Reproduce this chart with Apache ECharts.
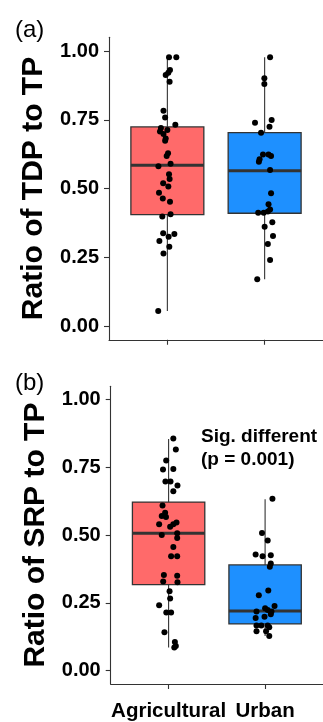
<!DOCTYPE html>
<html>
<head>
<meta charset="utf-8">
<script src="https://cdn.jsdelivr.net/npm/echarts@6/dist/echarts.min.js"></script>
<style>
html,body{margin:0;padding:0;background:#fff;}
#chart{width:323px;height:722px;}
</style>
</head>
<body>
<div id="chart"></div>
<script>
// ---------- data ----------
const categories = ['Agricultural', 'Urban'];
const yTicks = [0, 0.25, 0.5, 0.75, 1];
const xTicks = [1, 2];
const panelLabels = ['(a)', '(b)'];
const yTitles = ['Ratio of TDP to TP', 'Ratio of SRP to TP'];
const annotation = 'Sig. different\n(p = 0.001)';

// box stats: [lower whisker, Q1, median, Q3, upper whisker]
const tdpAgriBox = [0.055, 0.405, 0.585, 0.724, 0.977];
const tdpUrbanBox = [0.170, 0.410, 0.565, 0.703, 0.977];
const srpAgriBox = [0.085, 0.317, 0.507, 0.622, 0.855];
const srpUrbanBox = [0.127, 0.172, 0.220, 0.390, 0.632];

// jittered observations: [jittered category position, ratio]
const tdpAgriPts = [[1.017,0.977],[1.092,0.977],[1.027,0.931],[1.010,0.921],[0.983,0.913],[1.023,0.888],[0.960,0.783],[0.977,0.758],[1.082,0.732],[0.934,0.720],[1.000,0.713],[0.924,0.707],[0.960,0.698],[0.983,0.682],[0.977,0.674],[1.007,0.628],[0.993,0.618],[0.908,0.581],[1.033,0.590],[1.017,0.552],[1.023,0.535],[0.957,0.519],[1.010,0.507],[0.914,0.485],[0.953,0.464],[1.027,0.452],[1.033,0.406],[0.948,0.398],[0.957,0.337],[1.072,0.335],[1.013,0.325],[0.918,0.309],[1.020,0.288],[0.960,0.264],[0.906,0.055]];
const tdpUrbanPts = [[2.056,0.977],[1.997,0.901],[1.997,0.880],[1.901,0.739],[2.072,0.749],[2.050,0.725],[1.963,0.703],[1.983,0.624],[2.040,0.624],[2.066,0.618],[1.948,0.606],[1.941,0.597],[2.056,0.567],[2.066,0.483],[2.040,0.443],[2.056,0.424],[2.033,0.416],[1.934,0.412],[1.990,0.412],[2.079,0.377],[2.000,0.361],[2.086,0.327],[2.033,0.298],[2.056,0.240],[1.924,0.170]];
const srpAgriPts = [[1.049,0.857],[1.075,0.816],[0.975,0.776],[0.942,0.742],[1.049,0.744],[0.967,0.698],[1.020,0.698],[1.092,0.683],[1.049,0.662],[0.937,0.609],[0.964,0.583],[0.973,0.567],[0.929,0.571],[0.902,0.540],[1.016,0.531],[1.049,0.540],[1.082,0.547],[0.929,0.500],[1.089,0.507],[1.089,0.489],[1.049,0.456],[1.026,0.422],[1.089,0.422],[0.951,0.353],[1.089,0.350],[0.944,0.329],[1.092,0.326],[1.010,0.293],[1.016,0.266],[0.902,0.241],[0.976,0.214],[1.026,0.214],[0.957,0.141],[1.065,0.105],[1.075,0.090],[1.059,0.085]];
const srpUrbanPts = [[2.076,0.634],[1.968,0.508],[2.027,0.480],[1.902,0.428],[1.974,0.422],[2.059,0.426],[2.059,0.395],[2.049,0.383],[2.033,0.295],[1.935,0.278],[2.098,0.238],[2.000,0.230],[2.027,0.223],[1.911,0.218],[2.066,0.218],[2.059,0.208],[1.994,0.198],[1.902,0.194],[1.911,0.166],[1.961,0.166],[2.027,0.166],[2.043,0.160],[1.911,0.145],[2.010,0.145],[2.043,0.127]];

// ---------- styles ----------
const FONT = "'Liberation Sans', Arial, sans-serif";
const fills = ['#FF6A6A', '#1E90FF'];
const dark = '#333333';
const BOX_HALF = 0.375;

const chart = echarts.init(document.getElementById('chart'), null, {renderer: 'canvas'});

function boxData(boxes) {
  return boxes.map((b, i) => [xTicks[i]].concat(b));
}

function renderBox(params, api) {
  const x = api.value(0);
  const lo = api.value(1), q1 = api.value(2), med = api.value(3), q3 = api.value(4), hi = api.value(5);
  const pLo = api.coord([x, lo]);
  const pHi = api.coord([x, hi]);
  const tl = api.coord([x - BOX_HALF, q3]);
  const br = api.coord([x + BOX_HALF, q1]);
  const mL = api.coord([x - BOX_HALF, med]);
  const mR = api.coord([x + BOX_HALF, med]);
  const q1p = api.coord([x, q1]);
  const q3p = api.coord([x, q3]);
  const fill = fills[params.dataIndex];
  return {
    type: 'group',
    children: [
      {type: 'line', shape: {x1: pHi[0], y1: pHi[1], x2: q3p[0], y2: q3p[1]}, style: {stroke: dark, lineWidth: 1.1}},
      {type: 'line', shape: {x1: pLo[0], y1: pLo[1], x2: q1p[0], y2: q1p[1]}, style: {stroke: dark, lineWidth: 1.1}},
      {type: 'rect', shape: {x: tl[0], y: tl[1], width: br[0] - tl[0], height: br[1] - tl[1]}, style: {fill: fill, stroke: dark, lineWidth: 1.3}},
      {type: 'line', shape: {x1: mL[0], y1: mL[1], x2: mR[0], y2: mR[1]}, style: {stroke: dark, lineWidth: 3}}
    ]
  };
}

const grids = [
  {left: 109, top: 37.25, width: 222.6, height: 302.5},
  {left: 110.7, top: 386.2, width: 223.6, height: 303.3}
];

function makeX(idx, showLabels) {
  return {
    type: 'value', gridIndex: idx, min: 0.4, max: 2.6,
    axisLine: {show: true, onZero: false, lineStyle: {color: dark, width: 1.1}},
    axisTick: {show: true, length: 5, customValues: xTicks, lineStyle: {color: dark, width: 1.1}},
    axisLabel: {show: showLabels, customValues: xTicks, margin: 17,
      formatter: v => categories[Math.round(v) - 1],
      fontFamily: FONT, fontWeight: 'bold', fontSize: 20.5, color: '#000'},
    splitLine: {show: false}
  };
}
function makeY(idx) {
  return {
    type: 'value', gridIndex: idx, min: -0.05, max: 1.05,
    name: yTitles[idx], nameLocation: 'middle', nameGap: 57,
    nameTextStyle: {fontFamily: FONT, fontWeight: 'bold', fontSize: 30, color: '#000'},
    axisLine: {show: true, onZero: false, lineStyle: {color: dark, width: 1.1}},
    axisTick: {show: true, length: 5, customValues: yTicks, lineStyle: {color: dark, width: 1.1}},
    axisLabel: {customValues: yTicks, margin: 10, formatter: v => v.toFixed(2),
      fontFamily: FONT, fontWeight: 'bold', fontSize: 20, color: '#000'},
    splitLine: {show: false}
  };
}

function scatter(idx, pts) {
  return {type: 'scatter', xAxisIndex: idx, yAxisIndex: idx, data: pts, symbol: 'circle', symbolSize: 6,
    itemStyle: {color: '#000', opacity: 1}, z: 5, silent: true};
}

const option = {
  backgroundColor: '#fff',
  animation: false,
  grid: grids,
  xAxis: [makeX(0, false), makeX(1, true)],
  yAxis: [makeY(0), makeY(1)],
  graphic: [
    {type: 'text', left: 15, top: 18, style: {text: panelLabels[0], font: '24px ' + FONT, fill: '#000'}},
    {type: 'text', left: 15, top: 371, style: {text: panelLabels[1], font: '24px ' + FONT, fill: '#000'}},
    {type: 'text', left: 201, top: 425, style: {text: annotation, font: 'bold 19px ' + FONT, fill: '#000', lineHeight: 23}}
  ],
  series: [
    {type: 'custom', xAxisIndex: 0, yAxisIndex: 0, renderItem: renderBox, data: boxData([tdpAgriBox, tdpUrbanBox]), encode: {x: 0, y: [1,2,3,4,5]}, z: 2, silent: true},
    {type: 'custom', xAxisIndex: 1, yAxisIndex: 1, renderItem: renderBox, data: boxData([srpAgriBox, srpUrbanBox]), encode: {x: 0, y: [1,2,3,4,5]}, z: 2, silent: true},
    scatter(0, tdpAgriPts), scatter(0, tdpUrbanPts),
    scatter(1, srpAgriPts), scatter(1, srpUrbanPts)
  ]
};
chart.setOption(option);
</script>
</body>
</html>
